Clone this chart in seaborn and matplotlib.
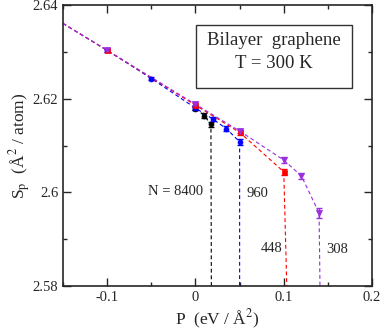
import matplotlib
matplotlib.use("Agg")
import matplotlib.pyplot as plt
from matplotlib.patches import Rectangle
from matplotlib.ticker import MultipleLocator
import numpy as np
import pandas as pd
import seaborn as sns

# ---- data ----
# every curve starts from a common extrapolated point left of the frame
x_start = -0.2
y_start = 2.6418

p_8400 = [0.0, 0.01, 0.0175]
s_8400 = [2.6179, 2.6164, 2.6145]
e_8400 = [0.0004, 0.0005, 0.0006]
end_8400 = 0.018

p_960 = [-0.1, -0.05, 0.0, 0.02, 0.035, 0.05]
s_960 = [2.6303, 2.6243, 2.6180, 2.6156, 2.6136, 2.6108]
e_960 = [0.0003, 0.0003, 0.0004, 0.0004, 0.0005, 0.0006]
end_960 = 0.05

p_448 = [-0.1, 0.0, 0.05, 0.1]
s_448 = [2.6303, 2.6186, 2.6128, 2.6044]
e_448 = [0.0003, 0.0004, 0.0005, 0.0006]
end_448 = 0.1034

p_308 = [-0.1, 0.0, 0.05, 0.1, 0.12, 0.14]
s_308 = [2.6303, 2.6188, 2.6131, 2.6069, 2.6035, 2.5956]
e_308 = [0.0003, 0.0004, 0.0005, 0.0006, 0.0007, 0.0010]
end_308 = 0.141

y_floor = 2.58

series = [
    ("8400", p_8400, s_8400, e_8400, end_8400, "black", "o", 3.6, False),
    ("960", p_960, s_960, e_960, end_960, "#0000ff", "o", 3.6, True),
    ("448", p_448, s_448, e_448, end_448, "#ff0000", "s", 3.6, True),
    ("308", p_308, s_308, e_308, end_308, "#9a2ee0", "v", 4.4, True),
]

labels = ["N = 8400", "960", "448", "308"]
label_x = [-0.023, 0.070, 0.086, 0.160]
label_y = [2.6002, 2.5998, 2.5881, 2.5879]

sns.set_style("ticks")
plt.rcParams["font.family"] = ["Liberation Serif", "DejaVu Serif"]
plt.rcParams["mathtext.fontset"] = "stix"

fig = plt.figure(figsize=(3.82, 3.30), dpi=100)
ax = fig.add_axes([0.165, 0.133, 0.809, 0.852])

for name, xs, ys, es, xend, col, mk, ms, from_left in series:
    line_x = ([x_start] if from_left else []) + xs + [xend]
    line_y = ([y_start] if from_left else []) + ys + [y_floor]
    df = pd.DataFrame({"P": line_x, "S": line_y})
    sns.lineplot(data=df, x="P", y="S", sort=False, ax=ax, color=col,
                 lw=0.8, linestyle=(0, (3.5, 2.5)), estimator=None)
    ax.errorbar(xs, ys, yerr=es, fmt="none", ecolor=col, elinewidth=1.0,
                capsize=2.4, capthick=1.0)
    sns.scatterplot(x=xs, y=ys, ax=ax, color=col, marker=mk, s=ms ** 2,
                    edgecolor=col, linewidth=0.5, zorder=5)

for txt, lx, ly in zip(labels, label_x, label_y):
    ax.text(lx, ly, txt, ha="center", va="center", fontsize=10.5)

ax.set_xlim(-0.15, 0.2)
ax.set_ylim(2.58, 2.64)
ax.xaxis.set_major_locator(MultipleLocator(0.1))
ax.xaxis.set_minor_locator(MultipleLocator(0.05))
ax.yaxis.set_major_locator(MultipleLocator(0.02))
ax.yaxis.set_minor_locator(MultipleLocator(0.01))
ax.set_xticks([-0.1, 0, 0.1, 0.2])
ax.set_xticklabels(["-0.1", "0", "0.1", "0.2"])
ax.set_yticks([2.58, 2.60, 2.62, 2.64])
ax.set_yticklabels(["2.58", "2.6", "2.62", "2.64"])
ax.tick_params(which="both", direction="in", top=True, right=True,
               labelsize=10.5, width=1.0)
ax.tick_params(which="major", length=5.5)
ax.tick_params(which="minor", length=3)
for sp in ax.spines.values():
    sp.set_linewidth(1.2)

ax.set_xlabel(r"P  (eV / Å$^2$)", fontsize=12.5)
ax.set_ylabel(r"S$_\mathrm{p}$  (Å$^2$ / atom)", fontsize=12.5)
ax.xaxis.set_label_coords(0.5, -0.076)
ax.yaxis.set_label_coords(-0.098, 0.5)

ax.add_patch(Rectangle((0.430, 0.705), 0.505, 0.224, transform=ax.transAxes,
                       fill=False, edgecolor="#333333", lw=1.0, zorder=6))
ax.text(0.683, 0.873, "Bilayer  graphene", transform=ax.transAxes,
        ha="center", va="center", fontsize=13.5)
ax.text(0.683, 0.790, "T = 300 K", transform=ax.transAxes,
        ha="center", va="center", fontsize=13.5)

fig.savefig("out.png", dpi=100)
